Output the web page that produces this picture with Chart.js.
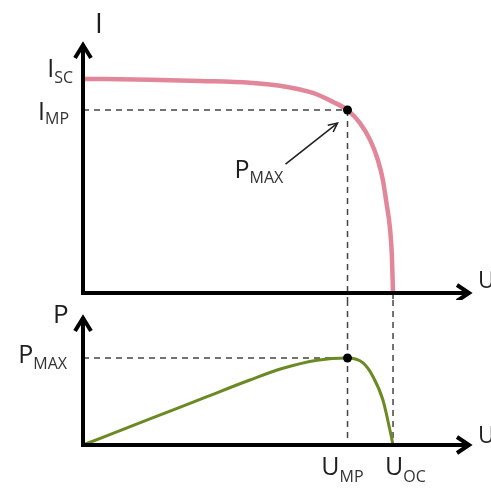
<!DOCTYPE html>
<html><head><meta charset="utf-8">
<script src="https://cdn.jsdelivr.net/npm/chart.js@4.4.1/dist/chart.umd.min.js"></script>
<style>
html,body{margin:0;padding:0;background:#fff;overflow:hidden}
#wrap{position:relative;width:491px;height:490px}
canvas{position:absolute;left:0}
#top{top:0}
#bot{top:300px}
</style></head><body>
<div id="wrap"><canvas id="top" width="491" height="300"></canvas><canvas id="bot" width="491" height="190"></canvas></div>
<script>
// ---- data ----
const uCurrent = [0, 1.72, 3.01, 4.29, 5.06, 5.91, 6.43, 6.80, 7.12, 7.38, 7.58, 7.71, 7.80, 7.89, 7.94, 7.97];
const iValues  = [8.53, 8.50, 8.45, 8.38, 8.26, 7.97, 7.61, 7.29, 6.77, 6.10, 5.30, 4.50, 3.60, 2.60, 1.50, 0];
const uPower   = [0, 1.72, 3.01, 4.29, 5.14, 6.02, 6.80, 7.20, 7.46, 7.71, 7.89, 7.97];
const pValues  = [0, 2.01, 3.51, 5.00, 5.90, 6.52, 6.69, 6.31, 5.23, 3.46, 1.15, 0];
const keyU = { mp: 6.80, oc: 7.97 };
const keyI = { sc: 8.53, mp: 7.29 };
const keyP = { max: 6.69 };
const axisMax = { u: 10, i: 10, p: 10 };

const FONT = '"Open Sans", Lato, sans-serif';
const INK = '#1e1e1e';
const SUBINK = '#333';

function arrowHead(ctx, x, y, dir, len, half) {
  ctx.beginPath();
  if (dir === 'up') { ctx.moveTo(x - half, y + len); ctx.lineTo(x, y); ctx.lineTo(x + half, y + len); }
  else if (dir === 'right') { ctx.moveTo(x - len, y - half); ctx.lineTo(x, y); ctx.lineTo(x - len, y + half); }
  ctx.stroke();
}
function subLabel(ctx, x, y, main, sub, align, mainSize, subSize, subDy) {
  ctx.save();
  ctx.textBaseline = 'alphabetic';
  ctx.textAlign = 'left';
  ctx.font = mainSize + 'px ' + FONT;
  const wm = ctx.measureText(main).width;
  ctx.font = subSize + 'px ' + FONT;
  const ws = sub ? ctx.measureText(sub).width : 0;
  const total = wm + (sub ? ws : 0);
  let x0 = x;
  if (align === 'right') x0 = x - total;
  else if (align === 'center') x0 = x - total / 2;
  ctx.fillStyle = INK;
  ctx.font = mainSize + 'px ' + FONT;
  ctx.fillText(main, x0, y);
  if (sub) {
    ctx.fillStyle = SUBINK;
    ctx.font = subSize + 'px ' + FONT;
    ctx.fillText(sub, x0 + wm, y + subDy);
  }
  ctx.restore();
}
function dashed(ctx, x1, y1, x2, y2) {
  ctx.save();
  ctx.strokeStyle = '#444';
  ctx.lineWidth = 1.5;
  ctx.setLineDash([6, 5]);
  ctx.beginPath(); ctx.moveTo(x1, y1); ctx.lineTo(x2, y2); ctx.stroke();
  ctx.restore();
}
function drawAxes(ctx, a) {
  ctx.save();
  ctx.strokeStyle = '#000';
  ctx.lineWidth = 4;
  ctx.lineJoin = 'miter';
  ctx.lineCap = 'butt';
  ctx.beginPath();
  ctx.moveTo(a.left, a.top + 2);
  ctx.lineTo(a.left, a.bottom);
  ctx.lineTo(a.right - 2, a.bottom);
  ctx.stroke();
  arrowHead(ctx, a.left, a.top + 3, 'up', 13, 8);
  arrowHead(ctx, a.right - 3, a.bottom, 'right', 12, 8);
  ctx.restore();
}

const topPlugin = {
  id: 'topDecor',
  beforeDatasetsDraw(chart) {
    const { ctx, chartArea: a, scales: { x, y } } = chart;
    const xm = x.getPixelForValue(keyU.mp), ym = y.getPixelForValue(keyI.mp);
    const xo = x.getPixelForValue(keyU.oc);
    dashed(ctx, a.left, ym, xm, ym);
    dashed(ctx, xm, ym, xm, chart.height);
    dashed(ctx, xo, a.bottom, xo, chart.height);
  },
  afterDatasetsDraw(chart) {
    const { ctx, chartArea: a, scales: { x, y } } = chart;
    drawAxes(ctx, a);
    const xm = x.getPixelForValue(keyU.mp), ym = y.getPixelForValue(keyI.mp);
    const ys = y.getPixelForValue(keyI.sc);
    // axis names
    subLabel(ctx, a.left + 12, 33, 'I', '', 'left', 28, 15, 0);
    subLabel(ctx, a.right + 6, a.bottom - 5, 'U', '', 'left', 23, 15, 0);
    // key-value labels
    subLabel(ctx, a.left - 10, ys - 2, 'I', 'SC', 'right', 25, 16, 6);
    subLabel(ctx, a.left - 14, ym + 10, 'I', 'MP', 'right', 25, 16, 4);
    // PMAX annotation with arrow
    ctx.save();
    ctx.strokeStyle = '#222';
    ctx.lineWidth = 1.6;
    const tx = xm - 10, ty = ym + 13, sx = xm - 62, sy = ym + 54;
    ctx.beginPath(); ctx.moveTo(sx, sy); ctx.lineTo(tx, ty); ctx.stroke();
    const ang = Math.atan2(ty - sy, tx - sx);
    ctx.beginPath();
    ctx.moveTo(tx - 10 * Math.cos(ang - 0.45), ty - 10 * Math.sin(ang - 0.45));
    ctx.lineTo(tx, ty);
    ctx.lineTo(tx - 10 * Math.cos(ang + 0.45), ty - 10 * Math.sin(ang + 0.45));
    ctx.stroke();
    ctx.restore();
    subLabel(ctx, xm - 113, ym + 68, 'P', 'MAX', 'left', 25, 16, 5);
  }
};

const botPlugin = {
  id: 'botDecor',
  beforeDatasetsDraw(chart) {
    const { ctx, chartArea: a, scales: { x, y } } = chart;
    const xm = x.getPixelForValue(keyU.mp), yp = y.getPixelForValue(keyP.max);
    const xo = x.getPixelForValue(keyU.oc);
    dashed(ctx, a.left, yp, xm, yp);
    dashed(ctx, xm, 0, xm, a.bottom);
    dashed(ctx, xo, 0, xo, a.bottom);
  },
  afterDatasetsDraw(chart) {
    const { ctx, chartArea: a, scales: { x, y } } = chart;
    drawAxes(ctx, a);
    const xm = x.getPixelForValue(keyU.mp), yp = y.getPixelForValue(keyP.max);
    const xo = x.getPixelForValue(keyU.oc);
    subLabel(ctx, a.left - 30, a.top + 8, 'P', '', 'left', 26, 15, 0);
    subLabel(ctx, a.right + 6, a.bottom - 2, 'U', '', 'left', 23, 15, 0);
    subLabel(ctx, a.left - 16, yp + 5, 'P', 'MAX', 'right', 25, 16, 6);
    subLabel(ctx, xm + 16, a.bottom + 30, 'U', 'MP', 'right', 25, 16, 7);
    subLabel(ctx, xo - 8, a.bottom + 30, 'U', 'OC', 'left', 25, 16, 7);
  }
};

function baseOptions(pad, yMax) {
  return {
    responsive: false,
    animation: false,
    devicePixelRatio: 1,
    layout: { padding: pad },
    plugins: { legend: { display: false }, tooltip: { enabled: false } },
    scales: {
      x: { type: 'linear', min: 0, max: axisMax.u, display: false },
      y: { type: 'linear', min: 0, max: yMax, display: false }
    },
    elements: { point: { radius: 0 } }
  };
}

new Chart(document.getElementById('top'), {
  type: 'line',
  data: {
    datasets: [
      { data: uCurrent.map((u, k) => ({ x: u, y: iValues[k] })), borderColor: '#e2879a', borderWidth: 4.5,
        cubicInterpolationMode: 'monotone', pointRadius: 0, clip: false, order: 2 },
      { data: [{ x: keyU.mp, y: keyI.mp }], showLine: false, pointRadius: 4.5, pointBackgroundColor: '#000',
        pointBorderWidth: 0, clip: false, order: 1 }
    ]
  },
  options: baseOptions({ left: 83, right: 19, top: 42, bottom: 7 }, axisMax.i),
  plugins: [topPlugin]
});

new Chart(document.getElementById('bot'), {
  type: 'line',
  data: {
    datasets: [
      { data: uPower.map((u, k) => ({ x: u, y: pValues[k] })), borderColor: '#6b8a23', borderWidth: 3,
        cubicInterpolationMode: 'monotone', pointRadius: 0, clip: false, order: 2 },
      { data: [{ x: keyU.mp, y: keyP.max }], showLine: false, pointRadius: 4.5, pointBackgroundColor: '#000',
        pointBorderWidth: 0, clip: false, order: 1 }
    ]
  },
  options: baseOptions({ left: 83, right: 19, top: 15, bottom: 45 }, axisMax.p),
  plugins: [botPlugin]
});
</script>
</body></html>
